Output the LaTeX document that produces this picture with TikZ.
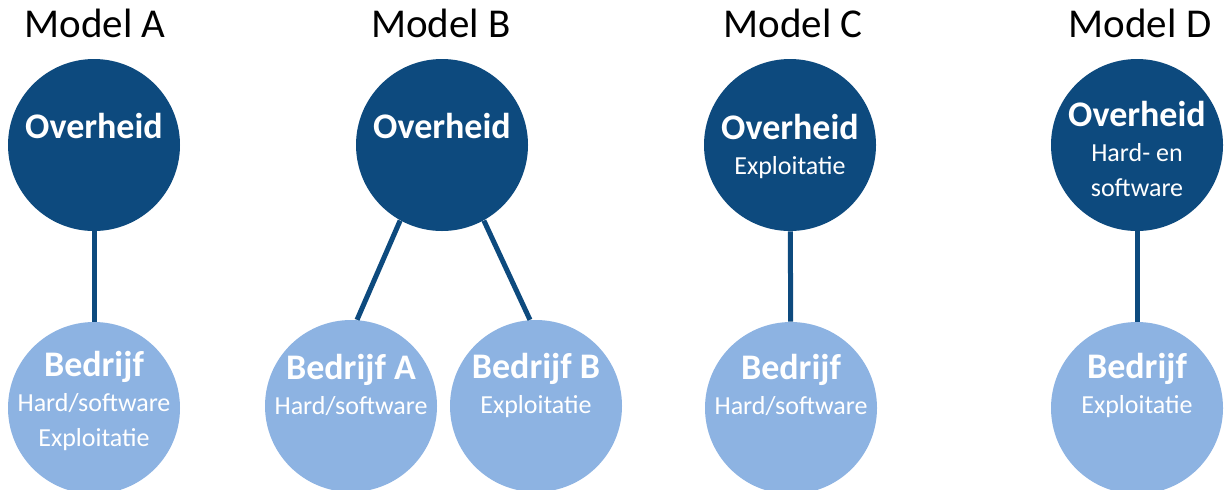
\documentclass[tikz,border=0pt]{standalone}
\usepackage{fontspec}
\setmainfont{Carlito}
\definecolor{darkblue}{HTML}{0D4A7E}
\definecolor{lightblue}{HTML}{8DB3E2}
\newcommand{\bigtext}{\bfseries\fontsize{18}{20}\selectfont}
\newcommand{\smalltext}{\fontsize{13}{17.5}\selectfont}
\begin{document}
\begin{tikzpicture}[x=0.5pt,y=-0.5pt]
    \tikzset{gov/.style = {shape=circle,fill=darkblue,minimum size=86pt,inner sep=0pt}}
    \tikzset{firm/.style = {shape=circle,fill=lightblue,minimum size=86pt,inner sep=0pt}}
    \tikzset{label/.style = {text=white,align=center,font=\smalltext,inner sep=0pt}}
    \tikzset{heading/.style = {font=\fontsize{20.5}{23}\selectfont,anchor=base}}
    \tikzset{edge/.style = {-,draw=darkblue,line width=2.5pt}}
    \useasboundingbox (0,0) rectangle (1225,489);
    % headings
    \node[heading] (hA) at (95,37) {Model A};
    \node[heading] (hB) at (441,37) {Model B};
    \node[heading] (hC) at (793,37) {Model C};
    \node[heading] (hD) at (1140,37) {Model D};
    % government circles on top
    \node[gov] (ovA) at (94,145) {};
    \node[gov] (ovB) at (442,145) {};
    \node[gov] (ovC) at (790,145) {};
    \node[gov] (ovD) at (1137,145) {};
    % company circles below
    \node[firm] (bedA) at (94,408) {};
    \node[firm] (bedBa) at (351,406) {};
    \node[firm] (bedBb) at (536,406) {};
    \node[firm] (bedC) at (791,408) {};
    \node[firm] (bedD) at (1137,408) {};
    % edges
    \draw[edge] (ovA) to (bedA);
    \draw[edge] (ovB.241) to (bedBa.86);
    \draw[edge] (ovB.299) to (bedBb.94);
    \draw[edge] (ovC) to (bedC);
    \draw[edge] (ovD) to (bedD);
    % texts in the circles
    \node[label] (tovA) at (94,126) {{\bigtext Overheid}};
    \node[label] (tovB) at (442,126) {{\bigtext Overheid}};
    \node[label] (tovC) at (790,146) {{\bigtext Overheid}\\ Exploitatie};
    \node[label] (tovD) at (1137,149) {{\bigtext Overheid}\\ Hard- en\\ software};
    \node[label] (tbedA) at (94,401) {{\bigtext Bedrijf}\\ Hard/software\\ Exploitatie};
    \node[label] (tbedBa) at (351,385) {{\bigtext Bedrijf A}\\ Hard/software};
    \node[label] (tbedBb) at (536,385) {{\bigtext Bedrijf B}\\ Exploitatie};
    \node[label] (tbedC) at (791,385) {{\bigtext Bedrijf}\\ Hard/software};
    \node[label] (tbedD) at (1137,385) {{\bigtext Bedrijf}\\ Exploitatie};
\end{tikzpicture}
\end{document}
